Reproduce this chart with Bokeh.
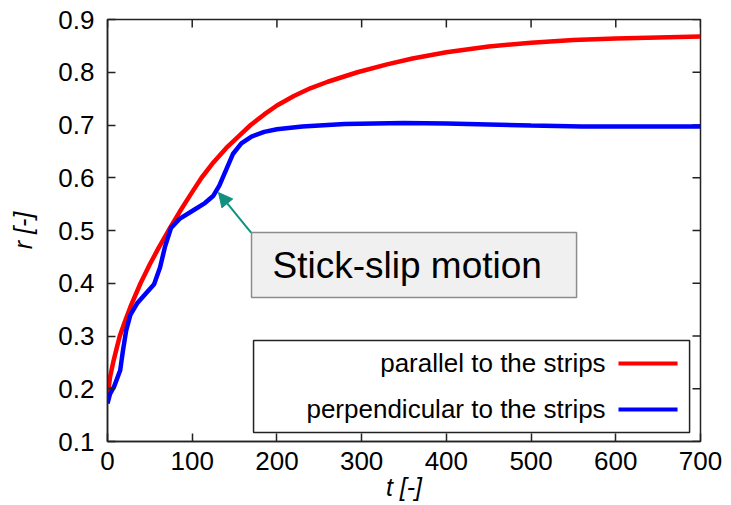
import math
from bokeh.plotting import figure
from bokeh.models import (Range1d, FixedTicker, PrintfTickFormatter,
                          Label, BoxAnnotation, Arrow, NormalHead)
from bokeh.embed import file_html
from bokeh.resources import INLINE

# ---------------- data ----------------
t_par = [0, 3, 7, 11, 14.5, 20, 27, 39, 50, 60, 72, 85, 98, 111, 125, 140, 155,
         169, 185, 200, 220, 240, 260, 295, 330, 360, 400, 450, 500, 550, 600,
         650, 700]
r_par = [0.185, 0.222, 0.252, 0.278, 0.300, 0.325, 0.355, 0.400, 0.436, 0.466,
         0.500, 0.535, 0.568, 0.600, 0.629, 0.656, 0.679, 0.700, 0.720, 0.737,
         0.755, 0.770, 0.782, 0.800, 0.815, 0.826, 0.838, 0.849, 0.856, 0.861,
         0.864, 0.866, 0.868]

t_perp = [0, 3, 8, 15, 18, 22, 27, 35, 45, 55, 62, 68, 75, 85, 100, 115, 125,
          132, 140, 148, 158, 170, 185, 200, 230, 280, 350, 400, 450, 500, 560,
          620, 700]
r_perp = [0.172, 0.19, 0.205, 0.235, 0.27, 0.31, 0.34, 0.362, 0.38, 0.398, 0.43,
          0.47, 0.505, 0.522, 0.537, 0.552, 0.566, 0.585, 0.615, 0.645, 0.665,
          0.678, 0.687, 0.692, 0.697, 0.702, 0.704, 0.703, 0.701, 0.699, 0.697,
          0.697, 0.697]

x_ticks = [0, 100, 200, 300, 400, 500, 600, 700]
y_ticks = [0.1, 0.2, 0.3, 0.4, 0.5, 0.6, 0.7, 0.8, 0.9]

series_labels = ["parallel to the strips", "perpendicular to the strips"]
series_colors = ["#ff0000", "#0000ff"]
annotation_text = "Stick-slip motion"
annot_point = (131, 0.572)   # point on the perpendicular curve the arrow refers to

FONT = "Liberation Sans"
AXC = "#222222"

# ---------------- figure ----------------
p = figure(width=731, height=505, output_backend="svg", toolbar_location=None,
           x_range=Range1d(0, 700), y_range=Range1d(0.1, 0.9),
           min_border_left=107, min_border_right=31, min_border_top=19,
           min_border_bottom=64)
p.background_fill_color = "white"
p.border_fill_color = "white"
p.outline_line_color = AXC
p.outline_line_width = 1.5
p.xgrid.visible = False
p.ygrid.visible = False

for ax in (p.xaxis[0], p.yaxis[0]):
    ax.axis_line_color = AXC
    ax.axis_line_width = 1.5
    ax.major_tick_line_color = AXC
    ax.major_tick_line_width = 1.5
    ax.major_tick_in = 8
    ax.major_tick_out = 0
    ax.minor_tick_line_color = None
    ax.major_label_text_font = FONT
    ax.major_label_text_color = "black"
    ax.major_label_text_font_size = "26px"
    ax.axis_label_text_font = FONT
    ax.axis_label_text_font_size = "25px"
    ax.axis_label_text_font_style = "italic"
    ax.axis_label_text_color = "black"

p.xaxis.ticker = FixedTicker(ticks=x_ticks)
p.yaxis.ticker = FixedTicker(ticks=y_ticks)
p.xaxis.formatter = PrintfTickFormatter(format="%d")
p.yaxis.formatter = PrintfTickFormatter(format="%.1f")
p.xaxis.major_label_standoff = 10
p.yaxis.major_label_standoff = 13
p.xaxis.axis_label = "t [-]"
p.yaxis.axis_label = "r [-]"
p.xaxis.axis_label_standoff = 0
p.xaxis.axis_label_text_line_height = 0.55
p.yaxis.axis_label_standoff = 18

# mirrored inward ticks on top and right edges (clipped to the frame -> only inner half)
tick_px = 16
p.scatter(x_ticks, [p.y_range.end] * len(x_ticks), marker="dash", size=tick_px,
          angle=math.pi / 2, line_color=AXC, line_width=1.5)
p.scatter([p.x_range.end] * len(y_ticks), y_ticks, marker="dash", size=tick_px,
          line_color=AXC, line_width=1.5)

# ---------------- curves ----------------
p.line(t_par, r_par, line_color=series_colors[0], line_width=4.5)
p.line(t_perp, r_perp, line_color=series_colors[1], line_width=4.5)

# ---------------- annotation box + arrow ----------------
teal = "#12907f"
p.add_layout(BoxAnnotation(left=170, right=553.7, bottom=0.373, top=0.496,
                           fill_color="#f0f0f0", fill_alpha=1.0,
                           line_color="#8c8c8c", line_alpha=1.0, line_width=1.5))
p.add_layout(Label(x=194.8, y=0.4336, text=annotation_text, text_font=FONT,
                   text_font_size="37px", text_color="black",
                   text_baseline="middle", text_align="left"))
p.add_layout(Arrow(x_start=169.5, y_start=0.496, x_end=annot_point[0], y_end=annot_point[1],
                   line_color=teal, line_width=2,
                   end=NormalHead(size=14, fill_color=teal, line_color=teal)))

# ---------------- legend (label left, sample line right) ----------------
p.add_layout(BoxAnnotation(left=172.4, right=687.1, bottom=0.1171, top=0.2915,
                           fill_color="white", fill_alpha=1.0,
                           line_color=AXC, line_alpha=1.0, line_width=1.5))
legend_rows = [0.2479, 0.1607]
for lab, col, yy in zip(series_labels, series_colors, legend_rows):
    p.add_layout(Label(x=588, y=yy, text=lab, text_font=FONT, text_font_size="26px",
                       text_color="black", text_align="right", text_baseline="middle"))
    p.add_layout(Arrow(x_start=603.2, y_start=yy, x_end=672.9, y_end=yy,
                       line_color=col, line_width=4, end=None))

open("out.html", "w").write(file_html(p, INLINE))
